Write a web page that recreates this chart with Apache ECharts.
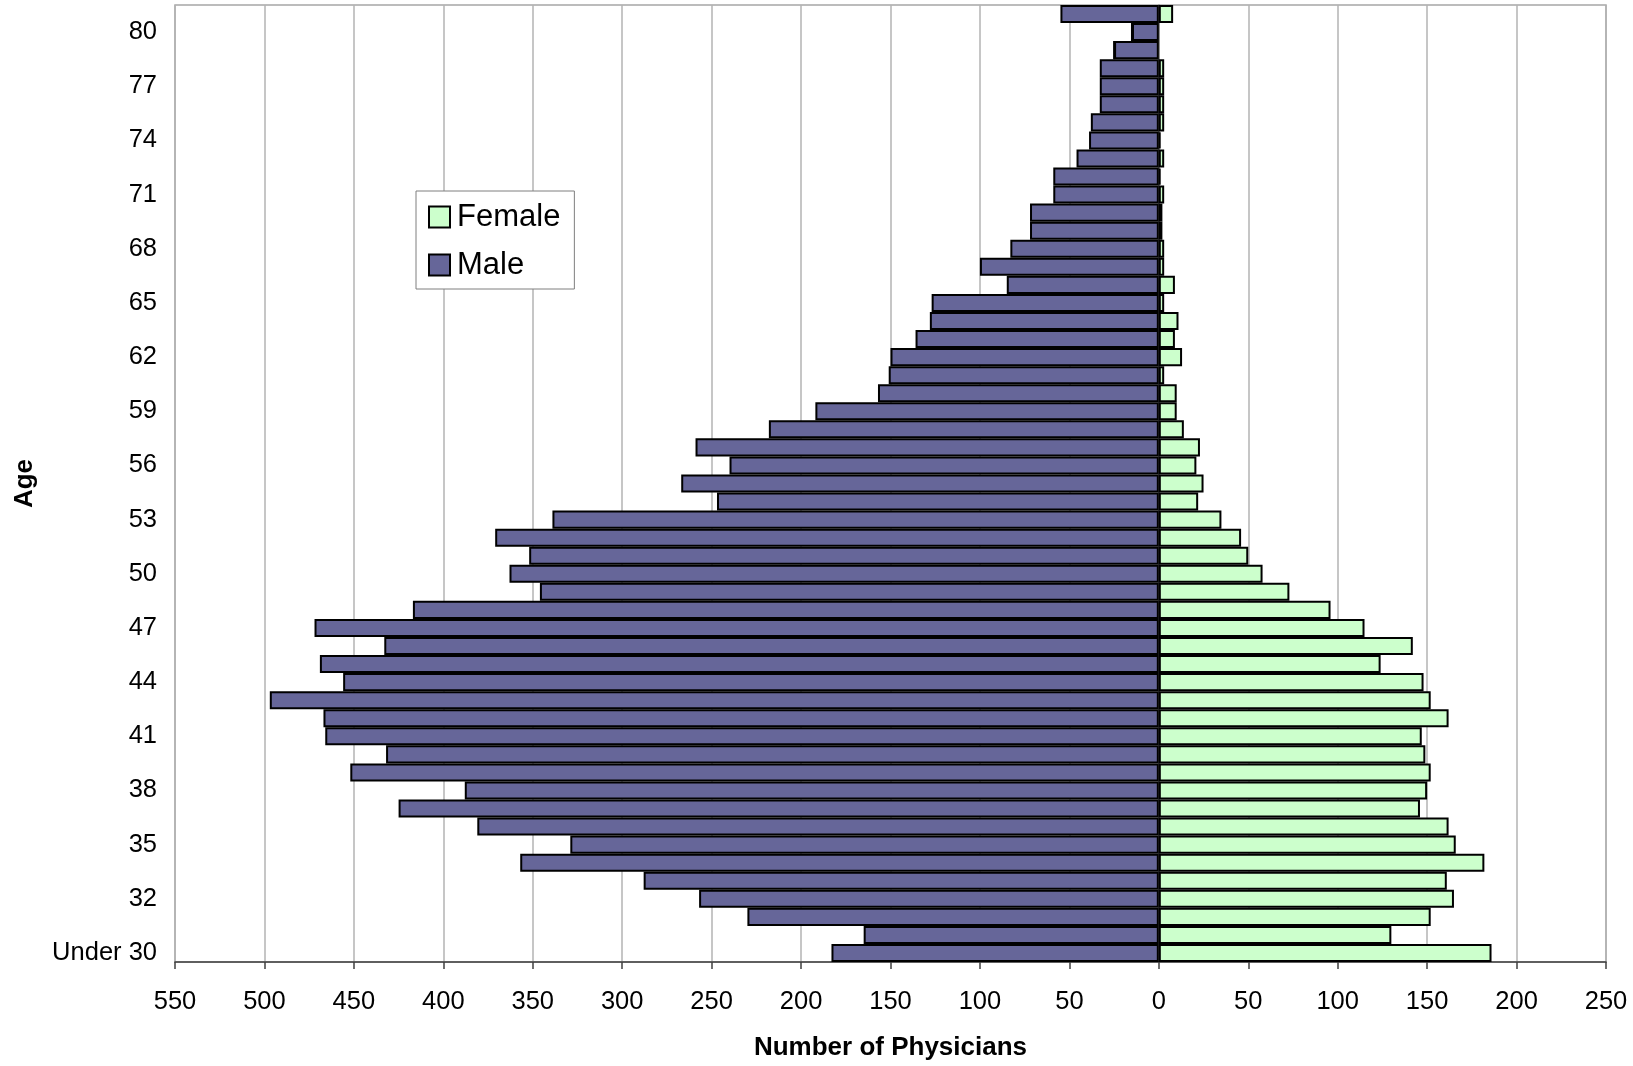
<!DOCTYPE html>
<html>
<head>
<meta charset="utf-8">
<script src="https://cdn.jsdelivr.net/npm/echarts@6/dist/echarts.min.js"></script>
<style>
html,body{margin:0;padding:0;background:#fff;}
#chart{width:1633px;height:1066px;}
</style>
</head>
<body>
<div id="chart"></div>
<script>
// Age categories, bottom to top
var ages = ['Under 30'];
for (var a = 30; a <= 80; a++) ages.push(String(a));
ages.push('81+');

// Male counts (Under 30, 30 ... 80, 81+)
var male = [183, 165, 230, 257, 288, 357, 329, 381, 425, 388,
            452, 432, 466, 467, 497, 456, 469, 433, 472, 417,
            346, 363, 352, 371, 339, 247, 267, 240, 259, 218,
            192, 157, 151, 150, 136, 128, 127, 85, 100, 83,
            72, 72, 59, 59, 46, 39, 38, 33, 33, 33,
            25, 15, 55];

// Female counts (Under 30, 30 ... 80, 81+)
var female = [186, 130, 152, 165, 161, 182, 166, 162, 146, 150,
              152, 149, 147, 162, 152, 148, 124, 142, 115, 96,
              73, 58, 50, 46, 35, 22, 25, 21, 23, 14,
              10, 10, 3, 13, 9, 11, 3, 9, 3, 3,
              2, 2, 3, 1, 3, 1, 3, 3, 3, 3,
              0, 0, 8];

var FONT = '"Liberation Sans", Arial, sans-serif';
var chart = echarts.init(document.getElementById('chart'));
chart.setOption({
  animation: false,
  backgroundColor: '#ffffff',
  grid: {
    left: 175, right: 27, top: 5, bottom: 98,
    show: true, borderColor: '#a6a6a6', borderWidth: 1.5,
    containLabel: false
  },
  legend: {
    orient: 'vertical',
    left: 416, top: 191,
    data: ['Female', 'Male'],
    icon: 'rect',
    backgroundColor: '#ffffff',
    borderColor: '#7f7f7f', borderWidth: 1,
    borderRadius: 0,
    padding: [8, 14, 6, 12],
    itemGap: 12,
    itemWidth: 21, itemHeight: 21,
    textStyle: { fontFamily: FONT, fontSize: 31, color: '#000', lineHeight: 36, padding: [0, 0, 0, 2] }
  },
  xAxis: {
    type: 'value',
    min: -550, max: 250, interval: 50,
    name: 'Number of Physicians',
    nameLocation: 'middle',
    nameGap: 73,
    nameTextStyle: { fontFamily: FONT, fontSize: 26, fontWeight: 'bold', color: '#000' },
    axisLine: { show: true, lineStyle: { color: '#404040', width: 1.5 } },
    axisTick: { show: true, length: 7, lineStyle: { color: '#404040', width: 1.5 } },
    axisLabel: {
      margin: 27,
      fontFamily: FONT, fontSize: 25.5, color: '#000',
      formatter: function (v) { return String(Math.abs(v)); }
    },
    splitLine: { show: true, lineStyle: { color: '#b3b3b3', width: 1.5 } }
  },
  yAxis: {
    type: 'category',
    data: ages,
    name: 'Age',
    nameLocation: 'middle',
    nameGap: 137,
    nameRotate: 90,
    nameTextStyle: { fontFamily: FONT, fontSize: 26, fontWeight: 'bold', color: '#000' },
    axisLine: { show: true, lineStyle: { color: '#808080', width: 1.5 } },
    axisTick: { show: false },
    axisLabel: {
      interval: 2,
      margin: 18,
      fontFamily: FONT, fontSize: 25.5, color: '#000'
    },
    splitLine: { show: false }
  },
  series: [
    {
      name: 'Male',
      type: 'bar',
      stack: 'pyr',
      barCategoryGap: '0%',
      data: male.map(function (v) { return -v; }),
      itemStyle: { color: '#666699', borderColor: '#000', borderWidth: 2 }
    },
    {
      name: 'Female',
      type: 'bar',
      stack: 'pyr',
      barCategoryGap: '0%',
      data: female,
      itemStyle: { color: '#ccffcc', borderColor: '#000', borderWidth: 2 }
    }
  ]
});
</script>
</body>
</html>
